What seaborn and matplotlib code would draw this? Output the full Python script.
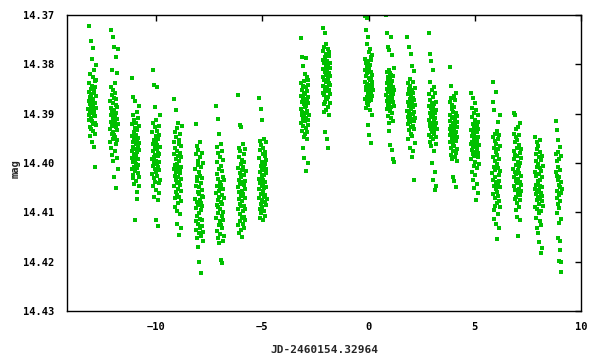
import matplotlib
matplotlib.use("Agg")
import matplotlib.pyplot as plt
import numpy as np
import pandas as pd
import seaborn as sns

# nightly magnitudes (JD-2460154.32964 on x)
n01 = [14.3891, 14.3856, 14.3912, 14.3874, 14.3722, 14.3903, 14.3838, 14.3927, 14.3866, 14.3881,
       14.3946, 14.3819, 14.3895, 14.3753, 14.3869, 14.3908, 14.3849, 14.3932, 14.3887, 14.3861,
       14.3789, 14.3915, 14.3843, 14.3898, 14.3958, 14.3877, 14.3826, 14.3921, 14.3871, 14.3884,
       14.3766, 14.3936, 14.3852, 14.3901, 14.3812, 14.3893, 14.3968, 14.3859, 14.3918, 14.3834,
       14.3879, 14.4008, 14.3905, 14.3846, 14.3941, 14.3802, 14.3889, 14.3864, 14.3923, 14.3831]
n02 = [14.3931, 14.3874, 14.3958, 14.3730, 14.3902, 14.3846, 14.3917, 14.3969, 14.3889, 14.3941,
       14.3811, 14.3925, 14.3863, 14.3984, 14.3896, 14.3745, 14.3937, 14.3878, 14.3951, 14.3908,
       14.3853, 14.3996, 14.3921, 14.3869, 14.3765, 14.3944, 14.3893, 14.4029, 14.3913, 14.3859,
       14.3976, 14.3905, 14.3838, 14.3948, 14.3882, 14.3785, 14.3928, 14.4051, 14.3899, 14.3962,
       14.3871, 14.3934, 14.3818, 14.3911, 14.3989, 14.3886, 14.3954, 14.3769, 14.3921, 14.4013]
n03 = [14.3975, 14.3921, 14.4012, 14.3946, 14.3828, 14.3989, 14.4031, 14.3958, 14.3903, 14.3997,
       14.3866, 14.4024, 14.3967, 14.3938, 14.4008, 14.3982, 14.3912, 14.4043, 14.3951, 14.3874,
       14.3993, 14.4017, 14.3929, 14.3971, 14.4116, 14.3943, 14.4002, 14.3962, 14.4036, 14.3919,
       14.3985, 14.4058, 14.3955, 14.3896, 14.4011, 14.3978, 14.3934, 14.4072, 14.3966, 14.4021,
       14.3908, 14.3991, 14.3949, 14.4005, 14.3885, 14.3973, 14.4029, 14.3959, 14.4046, 14.3925]
n04 = [14.3991, 14.3938, 14.4023, 14.3962, 14.3811, 14.4006, 14.3975, 14.4047, 14.3919, 14.3988,
       14.3842, 14.4031, 14.3954, 14.3997, 14.4068, 14.3928, 14.4012, 14.3969, 14.3886, 14.4039,
       14.3983, 14.3946, 14.4018, 14.4116, 14.3957, 14.3995, 14.4054, 14.3912, 14.4003, 14.3972,
       14.3846, 14.4027, 14.3964, 14.3935, 14.4075, 14.3986, 14.4009, 14.3951, 14.4128, 14.3979,
       14.4041, 14.3924, 14.3998, 14.4015, 14.3943, 14.4061, 14.3981, 14.3902, 14.4034, 14.3967]
n05 = [14.4013, 14.3958, 14.4047, 14.3982, 14.3870, 14.4026, 14.4071, 14.3937, 14.4005, 14.4089,
       14.3969, 14.4034, 14.3893, 14.4058, 14.3991, 14.4018, 14.3948, 14.4097, 14.4002, 14.4041,
       14.3975, 14.4123, 14.3929, 14.4064, 14.4011, 14.3986, 14.4053, 14.3919, 14.4029, 14.4082,
       14.3962, 14.4038, 14.4146, 14.3996, 14.4069, 14.3953, 14.4021, 14.4104, 14.3979, 14.4045,
       14.3942, 14.4016, 14.4077, 14.3988, 14.4131, 14.4032, 14.3966, 14.4056, 14.4008, 14.3925]
n06 = [14.4072, 14.4013, 14.4118, 14.3921, 14.4046, 14.4135, 14.3982, 14.4091, 14.4028, 14.4153,
       14.3966, 14.4079, 14.4108, 14.4037, 14.3995, 14.4124, 14.4058, 14.4171, 14.4005, 14.4086,
       14.3974, 14.4142, 14.4063, 14.4019, 14.4102, 14.4201, 14.4049, 14.3988, 14.4131, 14.4075,
       14.4026, 14.4113, 14.3958, 14.4082, 14.4148, 14.4041, 14.4096, 14.4222, 14.4009, 14.4067,
       14.4127, 14.3979, 14.4054, 14.4115, 14.4031, 14.4088, 14.4158, 14.3999, 14.4069, 14.4139]
n07 = [14.4061, 14.3885, 14.4112, 14.4023, 14.4085, 14.3967, 14.4138, 14.4046, 14.3998, 14.4101,
       14.4074, 14.3910, 14.4152, 14.4032, 14.4089, 14.3979, 14.4126, 14.4057, 14.4012, 14.4163,
       14.4068, 14.3941, 14.4118, 14.4039, 14.4094, 14.3988, 14.4143, 14.4051, 14.4196, 14.4007,
       14.4079, 14.4125, 14.3962, 14.4044, 14.4108, 14.4203, 14.4017, 14.4083, 14.4131, 14.3975,
       14.4064, 14.4099, 14.4028, 14.4158, 14.4052, 14.3993, 14.4116, 14.4071, 14.4035, 14.4147]
n08 = [14.4048, 14.3862, 14.4093, 14.4011, 14.4126, 14.3969, 14.4072, 14.4034, 14.4141, 14.3987,
       14.4059, 14.3923, 14.4104, 14.4021, 14.4083, 14.3975, 14.4118, 14.4043, 14.4003, 14.4067,
       14.4135, 14.3928, 14.4088, 14.4029, 14.4112, 14.3994, 14.4056, 14.4149, 14.4015, 14.4077,
       14.3962, 14.4098, 14.4038, 14.4123, 14.4008, 14.4062, 14.3981, 14.4109, 14.4045, 14.4087,
       14.4024, 14.4131, 14.3998, 14.4071, 14.4052, 14.4115, 14.3971, 14.4036, 14.4094, 14.4017]
n09 = [14.4032, 14.3868, 14.4071, 14.3989, 14.4053, 14.3956, 14.4094, 14.4018, 14.4112, 14.3974,
       14.4041, 14.3891, 14.4083, 14.4006, 14.4062, 14.3963, 14.4101, 14.4027, 14.3998, 14.4047,
       14.4076, 14.3912, 14.4014, 14.4089, 14.3981, 14.4057, 14.4035, 14.4116, 14.3969, 14.4043,
       14.4068, 14.4009, 14.3952, 14.4097, 14.4025, 14.4051, 14.3986, 14.4079, 14.4038, 14.4002,
       14.4107, 14.3977, 14.4064, 14.4021, 14.3958, 14.4086, 14.4012, 14.4049, 14.3994, 14.4072]
n10 = [14.3891, 14.3747, 14.3864, 14.3918, 14.3837, 14.3902, 14.3785, 14.3876, 14.3935, 14.3852,
       14.3897, 14.3969, 14.3843, 14.3911, 14.3868, 14.3804, 14.3926, 14.3881, 14.3948, 14.3858,
       14.3905, 14.3834, 14.3990, 14.3887, 14.3915, 14.3819, 14.3872, 14.3942, 14.3861, 14.3899,
       14.3788, 14.3929, 14.3846, 14.3884, 14.4016, 14.3908, 14.3855, 14.3938, 14.3825, 14.3894,
       14.3871, 14.3952, 14.3841, 14.4001, 14.3913, 14.3866, 14.3922, 14.3879, 14.3831, 14.3903]
n11 = [14.3826, 14.3726, 14.3791, 14.3858, 14.3772, 14.3843, 14.3809, 14.3881, 14.3764, 14.3831,
       14.3897, 14.3798, 14.3862, 14.3737, 14.3815, 14.3876, 14.3786, 14.3849, 14.3937, 14.3803,
       14.3868, 14.3758, 14.3835, 14.3892, 14.3779, 14.3822, 14.3855, 14.3952, 14.3794, 14.3871,
       14.3812, 14.3845, 14.3769, 14.3886, 14.3829, 14.3801, 14.3866, 14.3970, 14.3783, 14.3838,
       14.3903, 14.3817, 14.3852, 14.3775, 14.3879, 14.3824, 14.3797, 14.3861, 14.3808, 14.3841]
n12 = [14.3836, 14.3702, 14.3812, 14.3871, 14.3789, 14.3853, 14.3731, 14.3824, 14.3888, 14.3798,
       14.3846, 14.3707, 14.3867, 14.3805, 14.3839, 14.3758, 14.3879, 14.3818, 14.3861, 14.3923,
       14.3794, 14.3842, 14.3744, 14.3883, 14.3827, 14.3856, 14.3776, 14.3809, 14.3874, 14.3943,
       14.3832, 14.3801, 14.3866, 14.3768, 14.3849, 14.3893, 14.3816, 14.3785, 14.3859, 14.3959,
       14.3829, 14.3872, 14.3792, 14.3844, 14.3902, 14.3821, 14.3864, 14.3781, 14.3836, 14.3852]
n13 = [14.3862, 14.3701, 14.3838, 14.3891, 14.3815, 14.3874, 14.3737, 14.3849, 14.3905, 14.3826,
       14.3868, 14.3764, 14.3883, 14.3831, 14.3857, 14.3936, 14.3812, 14.3878, 14.3843, 14.3919,
       14.3770, 14.3866, 14.3829, 14.3894, 14.3852, 14.3963, 14.3818, 14.3872, 14.3839, 14.3908,
       14.3744, 14.3859, 14.3887, 14.3821, 14.3974, 14.3848, 14.3899, 14.3834, 14.3781, 14.3869,
       14.3914, 14.3845, 14.3991, 14.3876, 14.3824, 14.3861, 14.3808, 14.3885, 14.3853, 14.3998]
n14 = [14.3894, 14.3745, 14.3861, 14.3921, 14.3838, 14.3907, 14.3876, 14.3952, 14.3849, 14.3913,
       14.3765, 14.3885, 14.3934, 14.3856, 14.3898, 14.3829, 14.3969, 14.3871, 14.3917, 14.3843,
       14.3904, 14.3779, 14.3882, 14.3941, 14.3865, 14.3928, 14.3891, 14.3988, 14.3852, 14.3911,
       14.3804, 14.3879, 14.3946, 14.3868, 14.3901, 14.3836, 14.3924, 14.3887, 14.3976, 14.3858,
       14.3915, 14.3814, 14.3896, 14.4034, 14.3873, 14.3931, 14.3847, 14.3908, 14.3882, 14.3959]
n15 = [14.3912, 14.3737, 14.3884, 14.3943, 14.3861, 14.3925, 14.3779, 14.3898, 14.3957, 14.3872,
       14.3919, 14.3836, 14.3948, 14.3889, 14.3932, 14.3793, 14.3906, 14.3966, 14.3853, 14.3921,
       14.4001, 14.3879, 14.3938, 14.3895, 14.3811, 14.3928, 14.3867, 14.3952, 14.3903, 14.4035,
       14.3887, 14.3935, 14.3845, 14.3915, 14.3975, 14.3881, 14.3941, 14.4018, 14.3898, 14.3926,
       14.3858, 14.3909, 14.4055, 14.3947, 14.3876, 14.3918, 14.3962, 14.3892, 14.4046, 14.3931]
n16 = [14.3931, 14.3806, 14.3902, 14.3958, 14.3876, 14.3944, 14.3915, 14.3983, 14.3868, 14.3937,
       14.3843, 14.3924, 14.3969, 14.3891, 14.3948, 14.3909, 14.3992, 14.3882, 14.3953, 14.3927,
       14.4028, 14.3897, 14.3962, 14.3918, 14.3975, 14.3864, 14.3941, 14.3906, 14.3966, 14.3934,
       14.4037, 14.3886, 14.3951, 14.3913, 14.3987, 14.3872, 14.3944, 14.3921, 14.3979, 14.3899,
       14.4048, 14.3938, 14.3859, 14.3956, 14.3928, 14.3996, 14.3904, 14.3947, 14.3917, 14.3971]
n17 = [14.3962, 14.3858, 14.3934, 14.3991, 14.3907, 14.3973, 14.3946, 14.4018, 14.3889, 14.3957,
       14.3869, 14.3981, 14.4035, 14.3921, 14.3968, 14.3939, 14.4006, 14.3898, 14.3952, 14.3927,
       14.4051, 14.3943, 14.3986, 14.3912, 14.3965, 14.3878, 14.3997, 14.3935, 14.4024, 14.3959,
       14.4075, 14.3918, 14.3977, 14.3949, 14.3893, 14.4011, 14.3938, 14.3971, 14.3925, 14.4042,
       14.3955, 14.3903, 14.3988, 14.3947, 14.4061, 14.3931, 14.3979, 14.3916, 14.3963, 14.4003]
n18 = [14.4021, 14.3836, 14.3987, 14.4062, 14.3948, 14.4034, 14.3876, 14.4095, 14.4008, 14.3969,
       14.4047, 14.3893, 14.4113, 14.3995, 14.4071, 14.3941, 14.4028, 14.4087, 14.3956, 14.4015,
       14.3856, 14.4052, 14.3978, 14.4124, 14.4039, 14.3962, 14.4081, 14.4002, 14.3935, 14.4058,
       14.4154, 14.3983, 14.4044, 14.3917, 14.4103, 14.4011, 14.3972, 14.4066, 14.3951, 14.4131,
       14.4025, 14.3991, 14.4077, 14.3944, 14.4036, 14.3903, 14.4089, 14.4017, 14.3965, 14.4049]
n19 = [14.4012, 14.3899, 14.3976, 14.4047, 14.3941, 14.4028, 14.3992, 14.4073, 14.3958, 14.4019,
       14.3902, 14.4055, 14.3984, 14.4096, 14.3947, 14.4036, 14.4004, 14.4068, 14.3931, 14.4023,
       14.4109, 14.3969, 14.4041, 14.3986, 14.4082, 14.3953, 14.4015, 14.4061, 14.3927, 14.4033,
       14.4148, 14.3997, 14.4052, 14.3963, 14.4021, 14.4089, 14.3944, 14.4007, 14.4076, 14.3979,
       14.4039, 14.3918, 14.4064, 14.4001, 14.4115, 14.3972, 14.4045, 14.3989, 14.4026, 14.4057]
n20 = [14.4052, 14.3947, 14.4018, 14.4089, 14.3981, 14.4063, 14.4027, 14.4112, 14.3996, 14.4045,
       14.3958, 14.4076, 14.4131, 14.4009, 14.4058, 14.3972, 14.4094, 14.4036, 14.4142, 14.4003,
       14.4069, 14.3966, 14.4041, 14.4101, 14.3988, 14.4054, 14.4161, 14.4022, 14.4083, 14.3977,
       14.4047, 14.4118, 14.4011, 14.4072, 14.3954, 14.4035, 14.4097, 14.4182, 14.4016, 14.4061,
       14.3993, 14.4125, 14.4049, 14.3985, 14.4078, 14.4029, 14.4172, 14.4066, 14.4006, 14.4087]
n21 = [14.3915, 14.4018, 14.3982, 14.4057, 14.3933, 14.4026, 14.4101, 14.3996, 14.4071, 14.3953,
       14.4034, 14.4152, 14.4009, 14.4083, 14.3978, 14.4045, 14.4122, 14.3991, 14.4064, 14.4198,
       14.4029, 14.4092, 14.3967, 14.4159, 14.4049, 14.4014, 14.4176, 14.4077, 14.4038, 14.4221,
       14.3986, 14.4061, 14.4113, 14.4201, 14.4052]

night_mags = [n01, n02, n03, n04, n05, n06, n07, n08, n09, n10, n11,
              n12, n13, n14, n15, n16, n17, n18, n19, n20, n21]
night_start = [-13.19, -12.17, -11.16, -10.19, -9.17, -8.16, -7.18, -6.16, -5.17,
               -3.19, -2.17, -0.18, 0.83, 1.82, 2.83, 3.81, 4.82, 5.83, 6.82, 7.83, 8.83]
cadence = 0.0075  # days between exposures

rows = []
for t0, mags in zip(night_start, night_mags):
    for i, m in enumerate(mags):
        rows.append((t0 + i * cadence, m))
df = pd.DataFrame(rows, columns=["jd", "mag"])

sns.set_style("white")
plt.rcParams.update({"font.family": ["DejaVu Sans Mono"], "font.weight": "bold", "font.size": 7.5})

fig = plt.figure(figsize=(6.06, 3.54), dpi=100)
ax = fig.add_axes([67 / 606, 1 - 311 / 354, 514 / 606, 296 / 354])
sns.scatterplot(data=df, x="jd", y="mag", ax=ax, marker="s", s=6.5, color="#00c000",
                linewidth=0, legend=False, antialiased=False)

yticks = [14.37, 14.38, 14.39, 14.40, 14.41, 14.42, 14.43]
ax.set_xlim(-14.2, 10)
ax.set_ylim(14.43, 14.37)
ax.set_xticks([-10, -5, 0, 5, 10])
ax.set_yticks(yticks)
ax.set_yticklabels([f"{v:.2f}" for v in yticks])
ax.tick_params(direction="in", length=4, width=1, top=True, right=True, colors="black")
ax.tick_params(axis="y", pad=9)
ax.tick_params(axis="x", pad=8)
for side in ["top", "right", "bottom", "left"]:
    ax.spines[side].set_visible(True)
    ax.spines[side].set_color("black")
    ax.spines[side].set_linewidth(1)
ax.set_xlabel("JD-2460154.32964", fontweight="bold", fontsize=8)
ax.set_ylabel("mag", fontweight="bold")
ax.xaxis.set_label_coords(0.5, -0.115)
ax.yaxis.set_label_coords(-0.09, 0.48)

fig.savefig("out.png", dpi=100)
